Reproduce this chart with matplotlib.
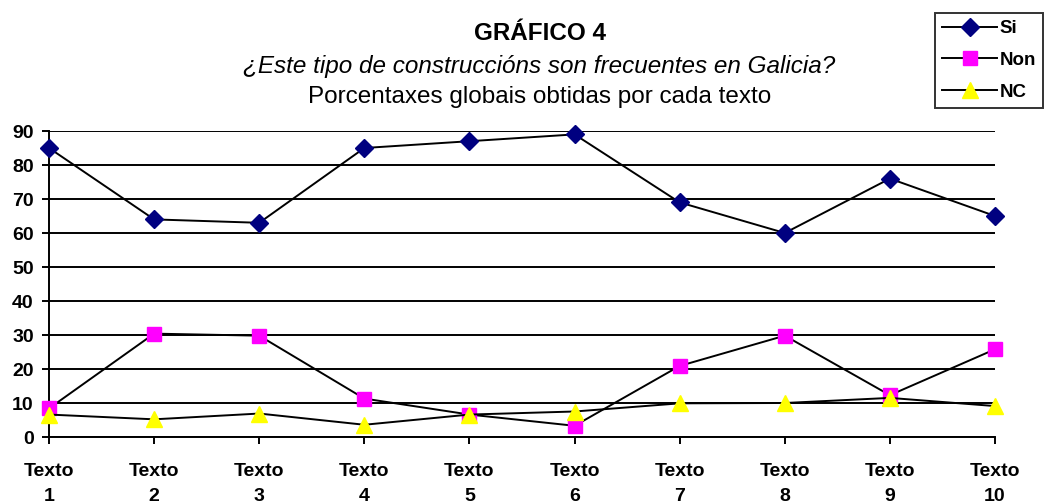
import numpy as np
import matplotlib.pyplot as plt

plt.rcParams['font.family'] = ['Liberation Sans', 'DejaVu Sans']

# Datos
textos = ['Texto\n1', 'Texto\n2', 'Texto\n3', 'Texto\n4', 'Texto\n5',
          'Texto\n6', 'Texto\n7', 'Texto\n8', 'Texto\n9', 'Texto\n10']
si = [85, 64, 63, 85, 87, 89, 69, 60, 76, 65]
non = [8.4, 30.4, 29.8, 11.3, 6.6, 3.3, 20.9, 29.8, 12.3, 25.8]
nc = [6.6, 5.2, 6.9, 3.6, 6.6, 7.5, 9.9, 10, 11.5, 9.1]

W, H = 1044, 504
fig = plt.figure(figsize=(W / 100, H / 100), dpi=100)
ax = fig.add_axes([49 / W, 1 - 437 / H, (995 - 49) / W, (437 - 131) / H])

x = np.arange(len(textos))
ax.plot(x, si, color='black', lw=1.4, marker='D', ms=9, mfc='#000080', mec='#000080',
        label='Si', zorder=3, clip_on=False)
ax.plot(x, non, color='black', lw=1.4, marker='s', ms=10.5, mfc='#FF00FF', mec='#FF00FF',
        label='Non', zorder=3, clip_on=False)
ax.plot(x, nc, color='black', lw=1.4, marker='^', ms=11, mfc='#FFFF00', mec='#FFFF00',
        label='NC', zorder=3, clip_on=False)

ax.set_xlim(0, len(textos) - 1)
ax.set_ylim(0, 90)
ax.set_yticks(range(0, 91, 10))
ax.set_xticks(x)
ax.set_xticklabels(textos, fontsize=14, fontweight='bold', linespacing=1.55)
for lbl in ax.get_yticklabels():
    lbl.set_fontsize(14)
    lbl.set_fontweight('bold')
ax.yaxis.grid(True, color='black', lw=1.4)
ax.set_axisbelow(True)
ax.spines['top'].set_visible(False)
ax.spines['right'].set_visible(False)
ax.spines['left'].set_linewidth(1.4)
ax.spines['bottom'].set_linewidth(1.4)
ax.tick_params(axis='both', direction='out', length=5, width=1.4, colors='black')
ax.tick_params(axis='x', pad=14)
ax.tick_params(axis='y', pad=6)

# Títulos
fig.text(540 / W, 1 - 34 / H, 'GRÁFICO 4', ha='center', va='center', fontsize=17.5, fontweight='bold')
fig.text(539 / W, 1 - 66 / H, '¿Este tipo de construccións son frecuentes en Galicia?',
         ha='center', va='center', fontsize=17.5, fontstyle='italic')
fig.text(540 / W, 1 - 97 / H, 'Porcentaxes globais obtidas por cada texto',
         ha='center', va='center', fontsize=17.5)

leg = fig.legend(loc='upper right', bbox_to_anchor=(1043 / W, 1 - 13 / H), frameon=True,
                 fancybox=False, edgecolor='black', prop={'weight': 'bold', 'size': 13.5},
                 handlelength=2.9, handletextpad=0.15, borderpad=0.38, labelspacing=0.78,
                 borderaxespad=0)
leg.get_frame().set_linewidth(1.4)

fig.savefig('out.png', dpi=100)
